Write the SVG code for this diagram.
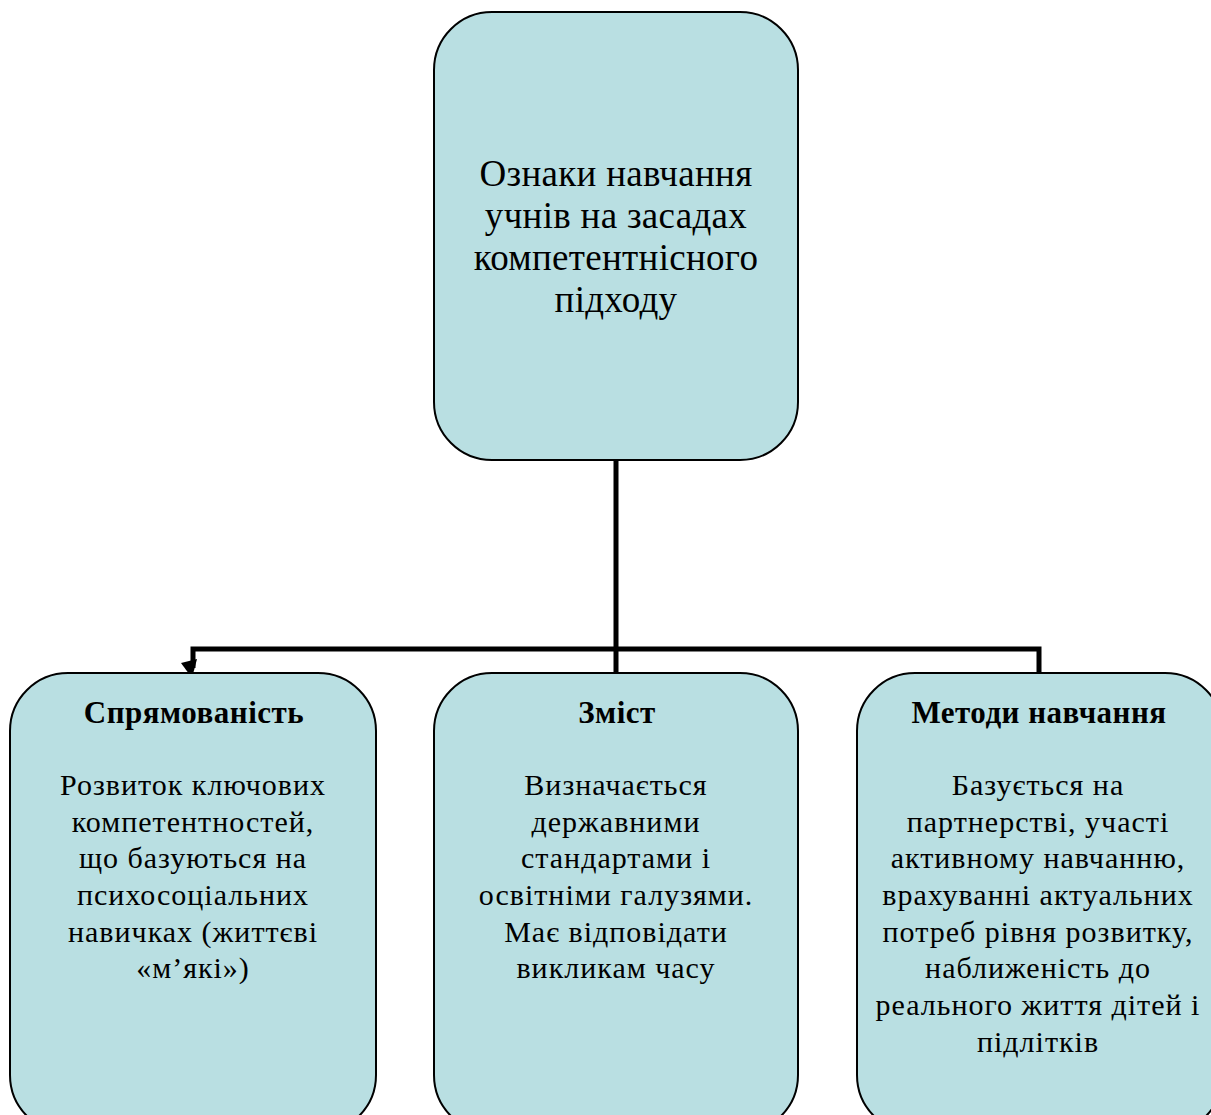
<svg xmlns="http://www.w3.org/2000/svg" width="1211" height="1115" viewBox="0 0 1211 1115">
<style>
.box{fill:#b9dfe2;stroke:#000;stroke-width:2}
.t{font-family:"Liberation Serif","Times New Roman",serif;fill:#000;text-anchor:middle}
.main{font-size:37px;letter-spacing:0.3px}
.title{font-size:31px;font-weight:bold;letter-spacing:0.5px}
.body{font-size:30px;letter-spacing:1px}
.conn{fill:none;stroke:#000;stroke-width:5;stroke-linejoin:miter}
</style>
<rect width="1211" height="1115" fill="#fff"/>
<g id="connectors">
<path class="conn" d="M616,460 V673 M616,649 H1039 V673 M616,649 H193 V668"/>
<polygon points="181,663 197,659 192,678" fill="#000"/>
</g>
<g id="node-root">
<rect class="box" x="434" y="12" width="364" height="448" rx="58" ry="58"/>
<text class="t main" x="616" y="186">Ознаки навчання</text>
<text class="t main" x="616" y="228">учнів на засадах</text>
<text class="t main" x="616" y="270">компетентнісного</text>
<text class="t main" x="616" y="312">підходу</text>
</g>
<g id="node-left">
<rect class="box" x="10" y="673" width="366" height="460" rx="58" ry="58"/>
<text class="t title" x="194" y="723">Спрямованість</text>
<text class="t body" x="193" y="795">Розвиток ключових</text>
<text class="t body" x="193" y="832">компетентностей,</text>
<text class="t body" x="193" y="868">що базуються на</text>
<text class="t body" x="193" y="905">психосоціальних</text>
<text class="t body" x="193" y="942">навичках (життєві</text>
<text class="t body" x="193" y="978">«м’які»)</text>
</g>
<g id="node-middle">
<rect class="box" x="434" y="673" width="364" height="460" rx="58" ry="58"/>
<text class="t title" x="617" y="723">Зміст</text>
<text class="t body" x="616" y="795">Визначається</text>
<text class="t body" x="616" y="832">державними</text>
<text class="t body" x="616" y="868">стандартами і</text>
<text class="t body" x="616" y="905">освітніми галузями.</text>
<text class="t body" x="616" y="942">Має відповідати</text>
<text class="t body" x="616" y="978">викликам часу</text>
</g>
<g id="node-right">
<rect class="box" x="857" y="673" width="366" height="460" rx="58" ry="58"/>
<text class="t title" x="1039" y="723">Методи навчання</text>
<text class="t body" x="1038" y="795">Базується на</text>
<text class="t body" x="1038" y="832">партнерстві, участі</text>
<text class="t body" x="1038" y="868">активному навчанню,</text>
<text class="t body" x="1038" y="905">врахуванні актуальних</text>
<text class="t body" x="1038" y="942">потреб рівня розвитку,</text>
<text class="t body" x="1038" y="978">наближеність до</text>
<text class="t body" x="1038" y="1015">реального життя дітей і</text>
<text class="t body" x="1038" y="1052">підлітків</text>
</g>
</svg>
